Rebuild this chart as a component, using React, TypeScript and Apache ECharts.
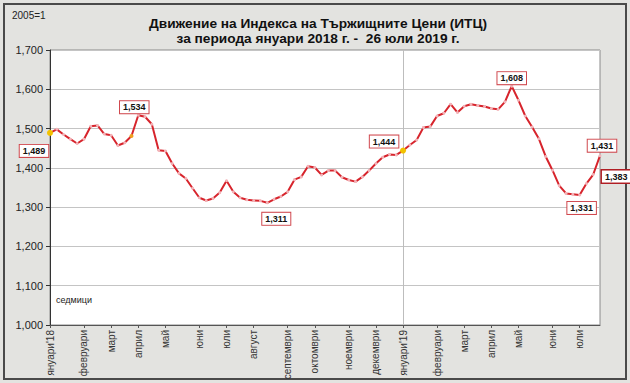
import React, { useEffect, useRef } from "react";
import * as echarts from "echarts";

// Weekly index values, 5 Jan 2018 .. 26 Jul 2019 (82 weeks)
const values: number[] = [
  1489, 1498, 1485, 1473, 1462, 1473, 1506, 1508, 1486, 1483,
  1457, 1464, 1481, 1534, 1530, 1511, 1445, 1443, 1411, 1386,
  1373, 1348, 1324, 1317, 1322, 1337, 1367, 1339, 1324, 1319,
  1317, 1316, 1311, 1320, 1327, 1339, 1370, 1377, 1404, 1401,
  1382, 1393, 1393, 1376, 1369, 1365, 1377, 1393, 1411, 1427,
  1434, 1433, 1444, 1458, 1471, 1503, 1505, 1532, 1539, 1562,
  1541, 1557, 1562, 1559, 1556, 1551, 1549, 1568, 1608, 1572,
  1532, 1504, 1474, 1429, 1394, 1355, 1335, 1333, 1331, 1360,
  1383, 1431,
];

// Month tick labels at week indices
const monthIdx: number[] = [0, 5, 9, 13, 17, 22, 26, 30, 35, 39, 44, 48, 52, 57, 61, 65, 69, 74, 78];
const monthNames: string[] = [
  "януари'18", "февруари", "март", "април", "май", "юни", "юли", "август",
  "септември", "октомври", "ноември", "декември", "януари'19", "февруари",
  "март", "април", "май", "юни", "юли",
];

const yTicks: number[] = [1000, 1100, 1200, 1300, 1400, 1500, 1600, 1700];

// Points with value labels
const labelIdx: number[] = [0, 13, 32, 52, 68, 78, 81, 80];
const highlightIdx: number[] = [0, 52];
const minorHighlightIdx: number[] = [12];

const title1 = "Движение на Индекса на Тържищните Цени (ИТЦ)";
const title2 = "за периода януари 2018 г. -  26 юли 2019 г.";

export default function App() {
  const ref = useRef<HTMLDivElement>(null);

  useEffect(() => {
    if (!ref.current) return;
    const chart = echarts.init(ref.current, undefined, { renderer: "svg" });

    const categories = values.map((_, i) => String(i));
    const labelMap: Record<number, string> = {};
    monthIdx.forEach((m, k) => (labelMap[m] = monthNames[k]));

    const offsets: Record<number, [number, number]> = {
      0: [-16, 18],
      13: [-4, -8],
      32: [9, 16],
      52: [-19, -9],
      68: [0, -8],
      78: [2, 13],
      81: [2, -10],
      80: [23, 2],
    };

    const fmt = (v: number) => v.toLocaleString("en-US");

    const data = values.map((v, i) => {
      const item: any = { value: v };
      if (labelIdx.includes(i)) {
        item.label = {
          show: true,
          position: "inside",
          offset: offsets[i],
          formatter: fmt(v),
          fontSize: 9,
          fontWeight: "bold",
          fontFamily: "Arial, Liberation Sans, sans-serif",
          color: "#111",
          backgroundColor: "#fff",
          borderColor: i === 80 ? "#b01e24" : "#d0484e",
          borderWidth: i === 80 ? 1.5 : 1,
          padding: [2, 3, 1, 3],
        };
      }
      if (highlightIdx.includes(i)) {
        item.symbolSize = 6;
        item.itemStyle = { color: "#f2c200" };
      }
      if (minorHighlightIdx.includes(i)) {
        item.symbolSize = 4;
        item.itemStyle = { color: "#f0a020" };
      }
      return item;
    });

    chart.setOption({
      animation: false,
      backgroundColor: "#e3e3e0",
      textStyle: { fontFamily: "Arial, Liberation Sans, sans-serif" },
      grid: {
        left: 50,
        right: 30,
        top: 50,
        bottom: 58,
        show: true,
        backgroundColor: "#ffffff",
        borderColor: "#8a8a8a",
        borderWidth: 1,
      },
      xAxis: {
        type: "category",
        data: categories,
        boundaryGap: false,
        axisLine: { lineStyle: { color: "#555", width: 1 } },
        axisTick: {
          show: true,
          alignWithLabel: true,
          interval: (idx: number) => monthIdx.includes(idx),
          length: 3,
          lineStyle: { color: "#555" },
        },
        axisLabel: {
          interval: (idx: number) => monthIdx.includes(idx),
          formatter: (_v: string, idx: number) => labelMap[idx] || "",
          rotate: 90,
          fontSize: 10,
          color: "#333",
          margin: 5,
        },
        splitLine: {
          show: true,
          interval: (idx: number) => idx === 52,
          lineStyle: { color: "#bdbdbd", width: 1 },
        },
      },
      yAxis: {
        type: "value",
        min: yTicks[0],
        max: yTicks[yTicks.length - 1],
        interval: 100,
        axisLine: { show: true, lineStyle: { color: "#333", width: 1 } },
        axisTick: { show: true, length: 4, lineStyle: { color: "#333" } },
        axisLabel: {
          formatter: (v: number) => fmt(v),
          fontSize: 11,
          color: "#222",
          margin: 7,
        },
        splitLine: { show: true, lineStyle: { color: "#c4c4c4", width: 1 } },
      },
      title: {
        text: title1 + "\n" + title2,
        left: 313,
        textAlign: "center",
        top: 11,
        textStyle: {
          fontSize: 13.7,
          fontWeight: "bold",
          color: "#111",
          lineHeight: 15,
          fontFamily: "Arial, Liberation Sans, sans-serif",
        },
      },
      graphic: [
        {
          type: "rect",
          shape: { x: 4, y: 4, width: 622, height: 375 },
          style: { fill: "none", stroke: "#4a4a4a", lineWidth: 2 },
          silent: true,
        },
        {
          type: "text",
          x: 12,
          y: 10,
          style: {
            text: "2005=1",
            fontSize: 10,
            fill: "#222",
            fontFamily: "Arial, Liberation Sans, sans-serif",
          },
        },
        {
          type: "text",
          x: 56,
          y: 295,
          style: {
            text: "седмици",
            fontSize: 9,
            fill: "#222",
            fontFamily: "Arial, Liberation Sans, sans-serif",
          },
        },
      ],
      series: [
        {
          type: "line",
          data,
          symbol: "circle",
          symbolSize: 3,
          showAllSymbol: true,
          itemStyle: { color: "#f3b3b8", borderWidth: 0 },
          lineStyle: { color: "#d7242c", width: 2 },
          label: { show: false },
          z: 3,
        },
      ],
    });

    return () => chart.dispose();
  }, []);

  return (
    <div
      ref={ref}
      style={{ position: "fixed", left: 0, top: 0, width: 630, height: 383 }}
    />
  );
}
